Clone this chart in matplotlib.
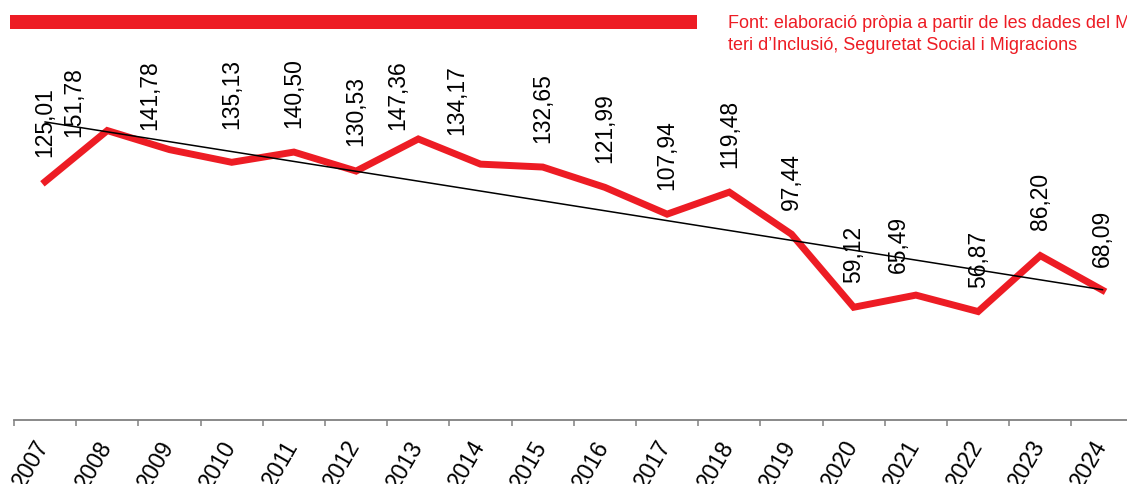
import numpy as np
import matplotlib.pyplot as plt
from matplotlib.patches import Rectangle
from matplotlib.transforms import ScaledTranslation

plt.rcParams['font.family'] = ['Liberation Sans', 'DejaVu Sans']

# dades
years = ['2007', '2008', '2009', '2010', '2011', '2012', '2013', '2014', '2015',
         '2016', '2017', '2018', '2019', '2020', '2021', '2022', '2023', '2024']
values = [125.01, 151.78, 141.78, 135.13, 140.50, 130.53, 147.36, 134.17, 132.65,
          121.99, 107.94, 119.48, 97.44, 59.12, 65.49, 56.87, 86.20, 68.09]
source_lines = ['Font: elaboració pròpia a partir de les dades del Minis',
                'teri d\u2019Inclusió, Seguretat Social i Migracions']

# where each label sits relative to its point (pixels), default is straight above
label_dx = [0, -34, -20, 0, 0, 0, -21, -24, 0, 0, 0, 0, 0, 0, -18, 0, 0, 0]
label_dy = [25, -6, 20, 33, 24, 25, 9, 29, 24, 24, 24, 24, 24, 24, 22, 24, 26, 23]

RED = '#ED1C24'
W, H = 1127, 484

fig = plt.figure(figsize=(W / 100, H / 100), dpi=100)
ax = fig.add_axes([14 / W, (H - 420) / H, 18 * 62.2 / W, 381.4 / H])

x = np.arange(len(values))
ax.plot(x, values, color=RED, lw=5, solid_joinstyle='miter', zorder=2)

# linear trend
slope, icpt = np.polyfit(x, values, 1)
ax.plot(x, slope * x + icpt, color='black', lw=1.1, zorder=3)

for i, v in enumerate(values):
    txt = f'{v:.2f}'.replace('.', ',')
    ax.annotate(txt, xy=(i, v), xytext=(label_dx[i] * 0.72, label_dy[i] * 0.72),
                textcoords='offset points', rotation=90, ha='center', va='bottom',
                fontsize=16.5, color='black', zorder=4)

ax.set_xlim(-0.5, 17.5)
ax.set_ylim(0, 200)
ax.set_xticks(x)
ax.set_xticklabels(years, rotation=60, ha='right', va='center',
                   rotation_mode='anchor', fontsize=16.5)
ax.tick_params(axis='x', which='major', length=0, pad=16)
shift = ScaledTranslation(-1 / 100, 0, fig.dpi_scale_trans)
for lab in ax.get_xticklabels():
    lab.set_transform(lab.get_transform() + shift)
ax.set_xticks(np.arange(-0.5, 18, 1), minor=True)
ax.tick_params(axis='x', which='minor', length=4.5, width=1.1, color='#808080')
ax.set_yticks([])
for s in ['top', 'right', 'left']:
    ax.spines[s].set_visible(False)
ax.spines['bottom'].set_color('#808080')
ax.spines['bottom'].set_linewidth(1.3)

# top red bar and source note
fig.patches.append(Rectangle((10 / W, 1 - 29 / H), 687 / W, 14 / H,
                             transform=fig.transFigure, color=RED, lw=0))
fig.text(728 / W, 1 - 28 / H, source_lines[0], color=RED, fontsize=13, va='baseline')
fig.text(728 / W, 1 - 50 / H, source_lines[1], color=RED, fontsize=13, va='baseline')

fig.savefig('out.png', dpi=100)
